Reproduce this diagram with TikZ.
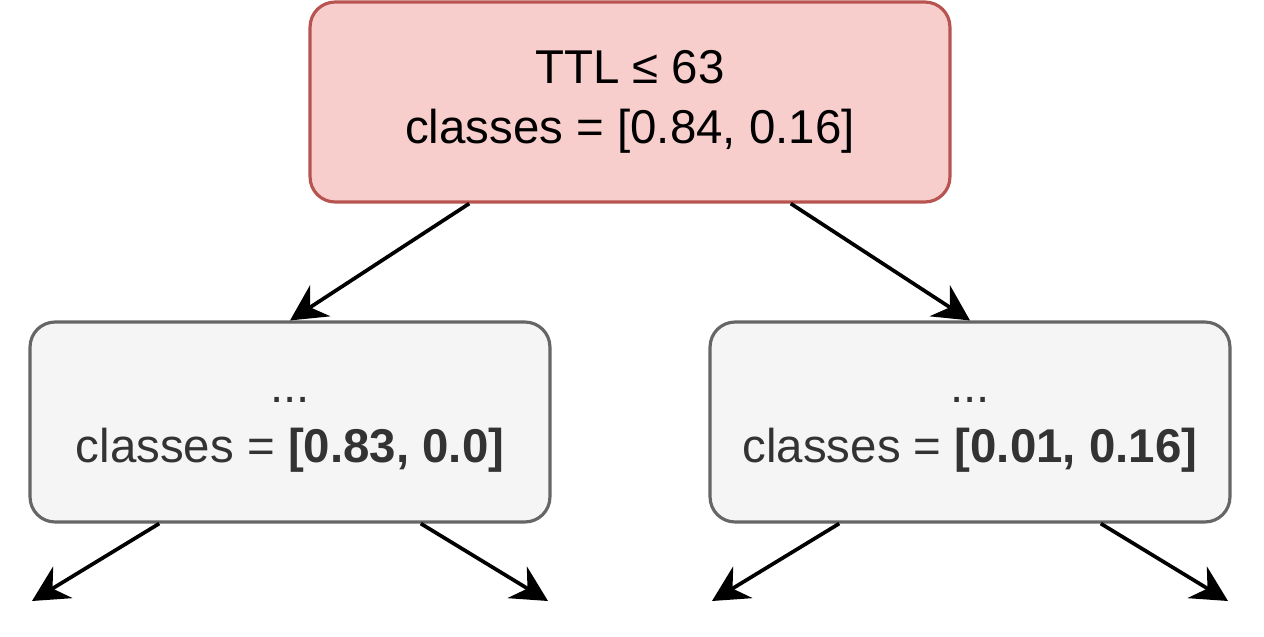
\documentclass[tikz,border=0pt]{standalone}
\usepackage{fontspec}
\setmainfont{Liberation Sans}
\usetikzlibrary{arrows.meta,positioning,calc}

\definecolor{rootfill}{HTML}{F8CECC}
\definecolor{rootdraw}{HTML}{B85450}
\definecolor{leaffill}{HTML}{F5F5F5}
\definecolor{leafdraw}{HTML}{666666}
\definecolor{leaftext}{HTML}{333333}

\begin{document}
\begin{tikzpicture}[
    x=0.02cm, y=-0.02cm,
    box/.style={line width=1.8pt, rounded corners=0.5cm, align=center, inner sep=0pt,
                font=\fontsize{27}{34}\selectfont, minimum height=4cm},
    rootbox/.style={box, draw=rootdraw, fill=rootfill, minimum width=12.8cm},
    leafbox/.style={box, draw=leafdraw, fill=leaffill, text=leaftext, minimum width=10.4cm},
    edge/.style={-{Stealth[length=0.72cm, width=0.74cm, inset=0.24cm]}, line width=2.1pt, black}
]
\useasboundingbox (0,0) rectangle (1264,636);

% === Root split ===
\node[rootbox] (root) at (630,102) {TTL ≤ 63\\classes = [0.84, 0.16]};

% === Children ===
\node[leafbox] (left) at (290,422) {\rule{0pt}{0.65em}...\\classes = \textbf{[0.83, 0.0]}};
\node[leafbox] (right) at (970,422) {\rule{0pt}{0.65em}...\\classes = \textbf{[0.01, 0.16]}};

% free ends below the children
\coordinate (ll) at (32,601);
\coordinate (lr) at (548,601);
\coordinate (rl) at (712,601);
\coordinate (rr) at (1228,601);

% Edges
\draw[edge] ($(root.south west)!0.25!(root.south east)$) -- (left.north);
\draw[edge] ($(root.south west)!0.75!(root.south east)$) -- (right.north);
\draw[edge] ($(left.south west)!0.25!(left.south east)$) -- (ll);
\draw[edge] ($(left.south west)!0.75!(left.south east)$) -- (lr);
\draw[edge] ($(right.south west)!0.25!(right.south east)$) -- (rl);
\draw[edge] ($(right.south west)!0.75!(right.south east)$) -- (rr);

\end{tikzpicture}
\end{document}
